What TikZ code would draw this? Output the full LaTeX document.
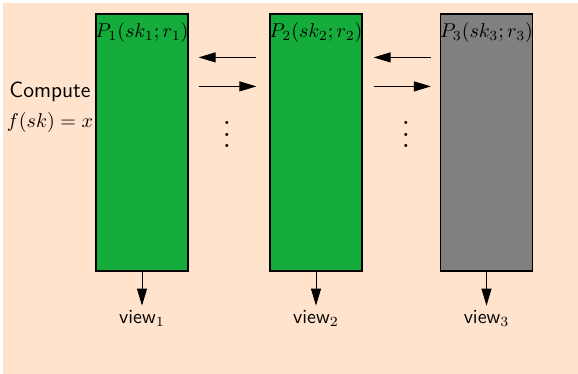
\documentclass[tikz,border=0pt]{standalone}
\usepackage{xcolor}
\definecolor{peach}{HTML}{FFE3CC}
\definecolor{partygreen}{HTML}{14AD3C}
\definecolor{partygrey}{HTML}{808080}
\usetikzlibrary{arrows.meta,positioning}

\begin{document}
\begin{tikzpicture}[
        x=0.5pt, y=-0.5pt,
        >={Triangle[length=8.5pt,width=5pt]},
        % --- node styles ---
        party/.style={
            draw, line width=0.6pt,
            minimum width=46pt, minimum height=128.5pt,
            inner sep=0pt, fill=partygreen
        },
        partylabel/.style={anchor=north, inner sep=4.5pt},
        viewlabel/.style={font=\sffamily, inner sep=2pt},
        sidetext/.style={inner sep=1pt},
        moredots/.style={inner sep=0pt, scale=1.45},
        % --- edge style ---
        arr/.style={->, line width=0.5pt}
    ]

    % background panel
    \useasboundingbox (0,0) rectangle (578,374);
    \fill[peach] (3,3) rectangle (578,374);

    % --- the three parties ---
    \node[party] (p1) at (142,142.5) {};
    \node[party] (p2) at (316,142.5) {};
    \node[party, fill=partygrey] (p3) at (486.5,142.5) {};

    \node[partylabel] (l1) at (p1.north) {$P_1(sk_1;r_1)$};
    \node[partylabel] (l2) at (p2.north) {$P_2(sk_2;r_2)$};
    \node[partylabel] (l3) at (p3.north) {$P_3(sk_3;r_3)$};

    % --- left text ---
    \node[sidetext, font=\fontsize{11}{13}\sffamily\selectfont] (compute) at (50,92) {Compute};
    \node[sidetext] (fsk) at (50,122) {$f(sk)=x$};

    % --- messages between parties ---
    \draw[arr] ([xshift=-6.5pt,yshift=-22pt]p2.north west) -- ([xshift=5pt,yshift=-22pt]p1.north east);
    \draw[arr] ([xshift=5pt,yshift=-36.5pt]p1.north east) -- ([xshift=-6.5pt,yshift=-36.5pt]p2.north west);
    \draw[arr] ([xshift=-4.5pt,yshift=-22pt]p3.north west) -- ([xshift=5.5pt,yshift=-22pt]p2.north east);
    \draw[arr] ([xshift=5.5pt,yshift=-36.5pt]p2.north east) -- ([xshift=-4.5pt,yshift=-36.5pt]p3.north west);

    \node[moredots] (dots1) at (227,126) {$\vdots$};
    \node[moredots] (dots2) at (406,126) {$\vdots$};

    % --- outputs ---
    \node[viewlabel, below=17pt of p1] (v1) {view$_1$};
    \node[viewlabel, below=17pt of p2] (v2) {view$_2$};
    \node[viewlabel, below=17pt of p3] (v3) {view$_3$};

    \draw[arr] (p1) -- (v1);
    \draw[arr] (p2) -- (v2);
    \draw[arr] (p3) -- (v3);

\end{tikzpicture}
\end{document}
